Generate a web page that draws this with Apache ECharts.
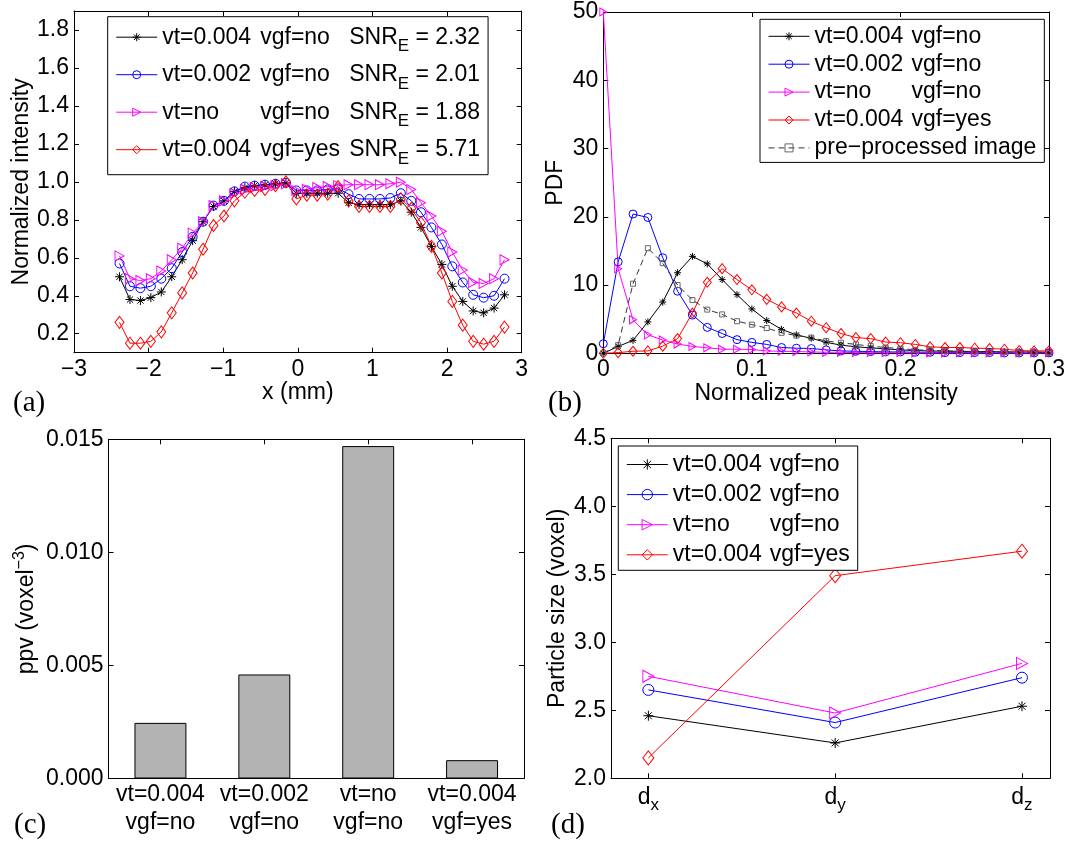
<!DOCTYPE html>
<html><head><meta charset="utf-8">
<script src="https://cdn.jsdelivr.net/npm/echarts@6/dist/echarts.min.js"></script>
<style>html,body{margin:0;padding:0;background:#fff}#c{width:1066px;height:847px}</style>
</head><body><div id="c"></div>
<script>
// ---------- legend text pieces ----------
const LEG_VT = ['vt=0.004', 'vt=0.002', 'vt=no', 'vt=0.004'];
const LEG_VGF = ['vgf=no', 'vgf=no', 'vgf=no', 'vgf=yes'];
const SNR_E = ['2.32', '2.01', '1.88', '5.71'];
const PRE_NAME = 'pre\u2212processed image';

// ---------- panel (a): normalized intensity profile ----------
const A_X = [-2.39,-2.25,-2.11,-1.97,-1.83,-1.69,-1.55,-1.41,-1.27,-1.13,-0.99,-0.85,-0.71,-0.58,-0.44,-0.30,-0.16,-0.02,0.12,0.26,0.40,0.54,0.68,0.82,0.96,1.10,1.24,1.38,1.52,1.65,1.79,1.93,2.07,2.21,2.35,2.49,2.63,2.77];
const A_BLACK = [0.50,0.38,0.375,0.39,0.42,0.50,0.59,0.69,0.79,0.87,0.90,0.95,0.97,0.98,0.985,0.99,0.995,0.94,0.94,0.94,0.94,0.94,0.89,0.88,0.88,0.88,0.88,0.90,0.84,0.76,0.66,0.565,0.45,0.37,0.32,0.31,0.335,0.405];
const A_BLUE = [0.57,0.45,0.44,0.45,0.49,0.545,0.63,0.71,0.79,0.875,0.90,0.95,0.975,0.98,0.985,0.99,0.995,0.955,0.955,0.955,0.96,0.965,0.935,0.91,0.91,0.91,0.915,0.94,0.90,0.84,0.76,0.67,0.555,0.47,0.405,0.39,0.40,0.49];
const A_MAGENTA = [0.61,0.49,0.48,0.49,0.53,0.59,0.65,0.73,0.79,0.875,0.90,0.94,0.96,0.97,0.975,0.98,0.99,0.955,0.96,0.97,0.975,0.98,0.985,0.985,0.985,0.985,0.99,0.998,0.96,0.89,0.82,0.74,0.63,0.535,0.47,0.465,0.49,0.59];
const A_RED = [0.26,0.15,0.15,0.16,0.21,0.31,0.415,0.52,0.645,0.77,0.82,0.90,0.945,0.955,0.96,0.98,1.0,0.91,0.93,0.93,0.935,0.975,0.90,0.87,0.87,0.87,0.87,0.91,0.86,0.785,0.66,0.52,0.37,0.245,0.16,0.145,0.16,0.235];
const A_YTICKS = [0.2,0.4,0.6,0.8,1.0,1.2,1.4,1.6,1.8];

// ---------- panel (b): PDF of normalized peak intensity ----------
const B_X = [0,0.01,0.02,0.03,0.04,0.05,0.06,0.07,0.08,0.09,0.10,0.11,0.12,0.13,0.14,0.15,0.16,0.17,0.18,0.19,0.20,0.21,0.22,0.23,0.24,0.25,0.26,0.27,0.28,0.29,0.30];
const B_BLACK = [0,1.0,1.9,4.6,7.5,11.8,14.2,13.1,10.8,8.6,6.5,4.8,3.5,2.7,2.2,1.6,1.2,0.95,0.8,0.65,0.5,0.4,0.35,0.3,0.3,0.25,0.25,0.2,0.2,0.2,0.15];
const B_BLUE = [1.4,13.4,20.4,19.9,14.0,9.1,5.6,3.8,2.9,2.0,1.6,1.3,0.85,0.75,0.7,0.5,0.35,0.3,0.25,0.2,0.2,0.15,0.15,0.1,0.1,0.1,0.1,0.05,0.05,0.05,0.05];
const B_MAGENTA = [50,12.4,4.9,2.7,1.95,1.35,1.0,0.8,0.6,0.6,0.55,0.35,0.3,0.25,0.2,0.15,0.15,0.1,0.1,0.1,0.1,0.05,0.05,0.05,0.05,0.05,0.05,0.05,0.05,0.05,0.05];
const B_RED = [0,0.1,0.3,0.35,1.05,2.15,5.9,10.4,12.4,10.8,9.3,7.9,6.8,5.9,4.7,3.75,2.9,2.3,2.15,1.65,1.55,1.3,0.95,0.85,0.85,0.75,0.7,0.6,0.4,0.35,0.35];
const B_PRE = [0,1.2,10.2,15.4,13.2,10.0,7.8,6.4,5.7,4.7,4.2,3.7,3.0,2.6,2.3,1.8,1.55,1.3,1.05,0.85,0.7,0.5,0.45,0.35,0.3,0.25,0.2,0.2,0.15,0.15,0.1];

// ---------- panel (c): ppv bars ----------
const C_CATS = ['vt=0.004\nvgf=no', 'vt=0.002\nvgf=no', 'vt=no\nvgf=no', 'vt=0.004\nvgf=yes'];
const C_PPV = [0.00246, 0.00460, 0.01470, 0.00081];

// ---------- panel (d): particle size ----------
const D_X = [1, 2, 3];
const D_SUB = ['x', 'y', 'z'];
const D_BLACK = [2.46, 2.26, 2.53];
const D_BLUE = [2.65, 2.41, 2.74];
const D_MAGENTA = [2.75, 2.48, 2.845];
const D_RED = [2.15, 3.49, 3.67];

// ---------- styling ----------
const FONT = 'Liberation Sans, Arial, sans-serif';
const FS = 23;
const SYM_STAR = 'path://M0,5L10,5M5,0L5,10M1.5,1.5L8.5,8.5M1.5,8.5L8.5,1.5';
const SYM_TRI = 'path://M0,0L10,5L0,10Z';
const STYLES = [
  { color: '#000000', symbol: SYM_STAR },
  { color: '#0000ff', symbol: 'circle' },
  { color: '#ff00ff', symbol: SYM_TRI },
  { color: '#ff0000', symbol: 'diamond' }
];
const SIZES = {
  a: [9, 9, [9, 10], [9, 12]],
  b: [7, 8, [7, 8], [8, 10]],
  d: [10, 11, [11, 12], [11, 14]]
};

const grids = [
  { left: 74, top: 11, width: 447.7, height: 341.7 },
  { left: 603.3, top: 12, width: 445.7, height: 341.3 },
  { left: 108.5, top: 439.3, width: 415.5, height: 339.2 },
  { left: 611, top: 438.3, width: 439, height: 340 }
].map(g => Object.assign({ containLabel: false, outerBoundsMode: 'none' }, g));

const lineAx = { show: true, onZero: false, lineStyle: { color: '#000', width: 1 } };
const tickAx = { show: true, inside: true, length: 5, lineStyle: { color: '#000', width: 1 } };
const lblAx = { color: '#000', fontFamily: FONT, fontSize: FS, margin: 5 };
const nameStyle = { color: '#000', fontFamily: FONT, fontSize: FS };
function minusFmt(v) { return v < 0 ? '\u2212' + Math.abs(v) : String(v); }

function ax(extra, hideLabel) {
  const a = Object.assign({
    axisLine: lineAx, splitLine: { show: false },
    axisTick: Object.assign({}, tickAx),
    axisLabel: Object.assign({}, lblAx)
  }, extra);
  if (extra.tickValues) {
    a.axisTick.customValues = extra.tickValues;
    a.axisLabel.customValues = extra.tickValues;
    delete a.tickValues;
  }
  if (extra.fmt) { a.axisLabel.formatter = extra.fmt; delete a.fmt; }
  if (extra.lblExtra) { Object.assign(a.axisLabel, extra.lblExtra); delete a.lblExtra; }
  if (hideLabel) { a.axisLabel.show = false; a.name = ''; }
  return a;
}

const xA = { gridIndex: 0, type: 'value', min: -3, max: 3, interval: 1, fmt: minusFmt,
  name: 'x (mm)', nameLocation: 'middle', nameGap: 28, nameTextStyle: nameStyle };
const xB = { gridIndex: 1, type: 'value', min: 0, max: 0.3, interval: 0.1,
  fmt: v => v === 0 ? '0' : String(+v.toFixed(1)),
  name: 'Normalized peak intensity', nameLocation: 'middle', nameGap: 24, nameTextStyle: nameStyle };
const xC = { gridIndex: 2, type: 'category', data: C_CATS,
  lblExtra: { lineHeight: 28, margin: 2, interval: 0 } };
const xD = { gridIndex: 3, type: 'value', min: 0.8, max: 3.15, tickValues: D_X,
  fmt: v => '{d|d}{s|' + D_SUB[D_X.indexOf(v)] + '}',
  lblExtra: { margin: 2, rich: {
    d: { fontFamily: FONT, fontSize: FS, color: '#000', lineHeight: 34 },
    s: { fontFamily: FONT, fontSize: 17, color: '#000', lineHeight: 17, verticalAlign: 'bottom' } } } };

const yA = { gridIndex: 0, type: 'value', min: 0.1, max: 1.9, tickValues: A_YTICKS,
  fmt: v => v.toFixed(1),
  name: 'Normalized intensity', nameLocation: 'middle', nameGap: 38, nameRotate: 90, nameTextStyle: nameStyle };
const yB = { gridIndex: 1, type: 'value', min: 0, max: 50, interval: 10,
  name: 'PDF', nameLocation: 'middle', nameGap: 36, nameRotate: 90, nameTextStyle: nameStyle };
const yC = { gridIndex: 2, type: 'value', min: 0, max: 0.015, interval: 0.005,
  fmt: v => v.toFixed(3),
  name: 'ppv (voxel{p|\u22123})', nameLocation: 'middle', nameGap: 62, nameRotate: 90,
  nameTextStyle: Object.assign({ lineHeight: 30, rich: {
    p: { fontFamily: FONT, fontSize: 16, color: '#000', lineHeight: 16, verticalAlign: 'top' } } }, nameStyle) };
const yD = { gridIndex: 3, type: 'value', min: 2, max: 4.5, interval: 0.5,
  fmt: v => v.toFixed(1),
  name: 'Particle size (voxel)', nameLocation: 'middle', nameGap: 42, nameRotate: 90, nameTextStyle: nameStyle };

function topOf(a) { const t = Object.assign({}, a, { position: 'top' }); return ax(t, true); }
function rightOf(a) { const t = Object.assign({}, a, { position: 'right' }); return ax(t, true); }

const xAxes = [xA, xB, xC, xD].map(a => ax(Object.assign({ position: 'bottom' }, a)));
const xTop = [xA, xB, xC, xD].map(topOf);
const yAxes = [yA, yB, yC, yD].map(a => ax(Object.assign({ position: 'left' }, a)));
const yRight = [yA, yB, yC, yD].map(rightOf);
xAxes[2].axisTick.alignWithLabel = true;
xTop[2].axisTick.alignWithLabel = true;

function lineSeries(name, gi, xs, ys, color, symbol, size, dashed) {
  return {
    type: 'line', name: name, xAxisIndex: gi, yAxisIndex: gi,
    data: xs.map((x, i) => [x, ys[i]]),
    symbol: symbol, symbolSize: size, showSymbol: true, showAllSymbol: true,
    lineStyle: { color: color, width: 1, type: dashed ? [6, 4] : 'solid' },
    itemStyle: { color: 'none', borderColor: color, borderWidth: 1 },
    emphasis: { disabled: true }, z: 3
  };
}

const aNames = LEG_VT.map((v, i) => v + ' ' + LEG_VGF[i] + ' SNR_E = ' + SNR_E[i]);
const bNames = LEG_VT.map((v, i) => v + ' ' + LEG_VGF[i]);
const dNames = LEG_VT.map((v, i) => v + ' ' + LEG_VGF[i] + ' ');

const A_SETS = [A_BLACK, A_BLUE, A_MAGENTA, A_RED];
const B_SETS = [B_BLACK, B_BLUE, B_MAGENTA, B_RED];
const D_SETS = [D_BLACK, D_BLUE, D_MAGENTA, D_RED];

const series = [];
A_SETS.forEach((ys, i) => series.push(lineSeries(aNames[i], 0, A_X, ys, STYLES[i].color, STYLES[i].symbol, SIZES.a[i])));
B_SETS.forEach((ys, i) => series.push(lineSeries(bNames[i], 1, B_X, ys, STYLES[i].color, STYLES[i].symbol, SIZES.b[i])));
const pre = lineSeries(PRE_NAME, 1, B_X, B_PRE, '#333333', 'rect', 5, true);
pre.itemStyle.borderColor = '#666666';
series.push(pre);
series.push({
  type: 'bar', name: 'ppv', xAxisIndex: 2, yAxisIndex: 2, data: C_PPV, barWidth: '50%',
  itemStyle: { color: '#b3b3b3', borderColor: '#000', borderWidth: 1 }, emphasis: { disabled: true }
});
D_SETS.forEach((ys, i) => series.push(lineSeries(dNames[i], 3, D_X, ys, STYLES[i].color, STYLES[i].symbol, SIZES.d[i])));

const legBase = {
  orient: 'vertical', backgroundColor: '#fff', borderColor: '#000', borderWidth: 1, borderRadius: 0,
  itemWidth: 41, selectedMode: false,
  itemStyle: { borderWidth: 1 }, lineStyle: { width: 1 },
  textStyle: { fontFamily: FONT, fontSize: FS, color: '#000' }
};
const txt = (w, lh) => ({ fontFamily: FONT, fontSize: FS, color: '#000', width: w, lineHeight: lh });

const legends = [
  Object.assign({}, legBase, {
    left: 107.7, top: 16.7, padding: [9, 8, 7, 8], itemGap: 8, itemHeight: 10, data: aNames,
    formatter: n => { const i = aNames.indexOf(n); return '{v|' + LEG_VT[i] + '}{g|' + LEG_VGF[i] + '}{s|SNR}{e|E}{n| = ' + SNR_E[i] + '}'; },
    textStyle: Object.assign({}, legBase.textStyle, { rich: {
      v: txt(98, 36), g: txt(89, 36), s: txt(undefined, 36), n: txt(undefined, 36),
      e: { fontFamily: FONT, fontSize: 17, color: '#000', lineHeight: 17, verticalAlign: 'bottom' } } })
  }),
  Object.assign({}, legBase, {
    left: 760, top: 19.3, padding: [5.5, 8, 3, 8], itemGap: 4.9, itemHeight: 10, data: bNames.concat([PRE_NAME]),
    formatter: n => { const i = bNames.indexOf(n); return i < 0 ? '{p|' + n + '}' : '{v|' + LEG_VT[i] + '}{g|' + LEG_VGF[i] + '}'; },
    textStyle: Object.assign({}, legBase.textStyle, { rich: { v: txt(97, 26), g: txt(undefined, 26), p: txt(undefined, 26) } })
  }),
  Object.assign({}, legBase, {
    left: 618.3, top: 446, padding: [7, 8, 4, 8], itemGap: 7.1, itemHeight: 13, data: dNames,
    formatter: n => { const i = dNames.indexOf(n); return '{v|' + LEG_VT[i] + '}{g|' + LEG_VGF[i] + '}'; },
    textStyle: Object.assign({}, legBase.textStyle, { rich: { v: txt(97, 27), g: txt(undefined, 27) } })
  })
];

const serif = '29px Liberation Serif, DejaVu Serif, serif';
const panelLabels = [['(a)', 13, 389], ['(b)', 548, 389], ['(c)', 14, 811], ['(d)', 551, 811]].map(p => ({
  type: 'text', left: p[1], top: p[2], style: { text: p[0], font: serif, fill: '#000' }
}));

const chart = echarts.init(document.getElementById('c'), null, { renderer: 'canvas' });
chart.setOption({
  animation: false, backgroundColor: '#fff',
  grid: grids,
  xAxis: xAxes.concat(xTop),
  yAxis: yAxes.concat(yRight),
  legend: legends,
  series: series,
  graphic: panelLabels,
  tooltip: { show: false }
});
</script></body></html>
